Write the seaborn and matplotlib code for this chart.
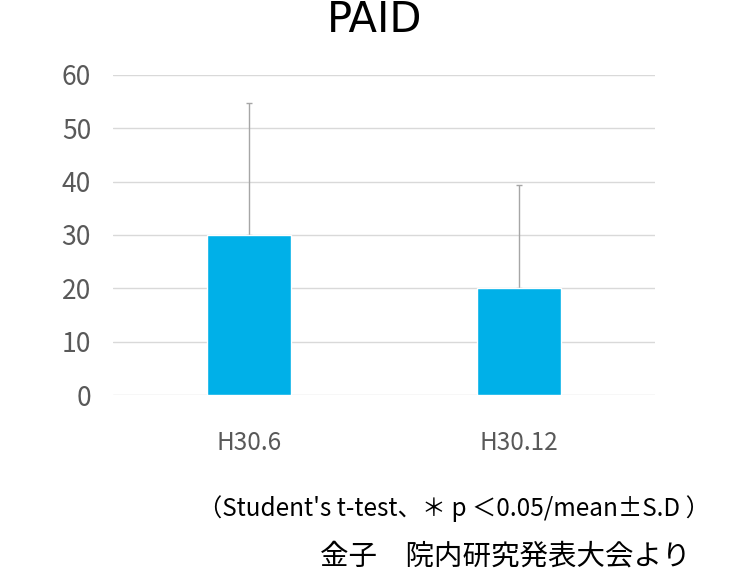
import pandas as pd
import matplotlib
matplotlib.use("Agg")
import matplotlib.pyplot as plt
import seaborn as sns

# data
periods = ["H30.6", "H30.12"]
means = [30.0, 20.1]
sds = [24.7, 19.3]
y_ticks = [0, 10, 20, 30, 40, 50, 60]

title_text = "PAID"
note_text = "（Student's t-test、＊ p ＜0.05/mean±S.D ）"
source_text = "金子　院内研究発表大会より"

sns.set_style("white")
plt.rcParams['font.family'] = ['Noto Sans CJK JP', 'DejaVu Sans']

df = pd.DataFrame({"period": periods, "mean": means, "sd": sds})

fig = plt.figure(figsize=(7.5, 5.75), dpi=100)
ax = fig.add_axes([0.151, 0.313, 0.722, 0.557])

sns.barplot(x="period", y="mean", data=df, color="#00B0E8", width=0.31,
            saturation=1, errorbar=None, ax=ax, zorder=3)

#upper error only
ax.errorbar(range(len(periods)), df["mean"], yerr=[[0] * len(sds), df["sd"]],
            fmt="none", ecolor="#a6a6a6", elinewidth=1, capsize=2, capthick=1, zorder=2)

ax.set_xlim(-0.5, len(periods) - 0.5)
ax.set_ylim(0, 60)
ax.set_yticks(y_ticks)
ax.yaxis.grid(True, color="#d9d9d9", linewidth=1)
ax.set_axisbelow(True)
for s in ax.spines.values():
    s.set_visible(False)
ax.set_xlabel("")
ax.set_ylabel("")
ax.tick_params(axis="y", labelsize=19, labelcolor="#595959", length=0, pad=16)
ax.tick_params(axis="x", labelsize=17.5, labelcolor="#595959", length=0, pad=25)

fig.text(0.5, 0.944, title_text, ha="center", va="baseline", fontsize=30,
         color="black", family="DejaVu Sans")
fig.text(0.605, 0.1026, note_text, ha="center", va="baseline", fontsize=17.5, color="black")
fig.text(0.92, 0.0174, source_text, ha="right", va="baseline", fontsize=20.5, color="black")

fig.savefig("out.png", dpi=100)
plt.close(fig)
